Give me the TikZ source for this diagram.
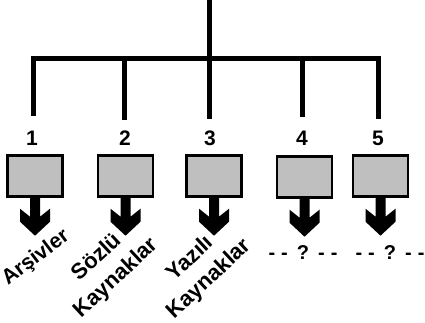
\documentclass[tikz,border=0pt]{standalone}
\usepackage{fontspec}
\setmainfont{Liberation Sans}
\usetikzlibrary{positioning}

\tikzset{
  branch/.style={line width=5pt},
  srcbox/.style={draw=black, fill=black!25, line width=2.4pt, minimum width=55pt, minimum height=41pt, inner sep=0pt},
  num/.style={font=\fontsize{21}{24}\selectfont\bfseries},
  lbl/.style={font=\fontsize{22}{28}\selectfont\bfseries, rotate=43, align=center, inner sep=0pt},
  qlbl/.style={font=\fontsize{20}{22}\selectfont\bfseries, inner sep=0pt},
  pics/downarrow/.style={code={
    \fill[black] (-5,0) -- (-5,19) -- (-15,11) -- (-15,24) -- (0,38) -- (15,24) -- (15,11) -- (5,19) -- (5,0) -- cycle;
  }}
}
\newcommand{\qmark}{-\hspace{6pt}-\hspace{9pt}?\hspace{9pt}-\hspace{6pt}-}

\begin{document}
\begin{tikzpicture}[x=1pt,y=-1pt]
\useasboundingbox (0,0) rectangle (425,323);
% tree
\coordinate (top) at (209,-3);
\coordinate (hub) at (209,59);
\coordinate (e1) at (33,116);
\coordinate (e2) at (124,120);
\coordinate (e3) at (209,119);
\coordinate (e4) at (302,117);
\coordinate (e5) at (378,119);
\draw[branch] (top) -- (hub);
\draw[branch] (e1) |- (hub) -| (e5);
\draw[branch] (e2) -- (e2 |- hub);
\draw[branch] (e3) -- (hub);
\draw[branch] (e4) -- (e4 |- hub);
% numbers
\node[num] (n1) at (32,138) {1};
\node[num] (n2) at (125,138) {2};
\node[num] (n3) at (210,138) {3};
\node[num] (n4) at (302,138) {4};
\node[num] (n5) at (378,138) {5};
% boxes
\node[srcbox] (b1) at (35,176) {};
\node[srcbox] (b2) at (125.5,176) {};
\node[srcbox] (b3) at (214,176) {};
\node[srcbox] (b4) at (304.5,177) {};
\node[srcbox] (b5) at (380.5,176) {};
\foreach \b in {b1,b2,b3,b4,b5}
  \pic at (\b.south) {downarrow};
% labels
\node[lbl, rotate=-6, font=\fontsize{21}{28}\selectfont\bfseries] (l1) at (36,258) {Arşivler};
\node[lbl] (l2) at (107,268) {Sözlü\\Kaynaklar};
\node[lbl] (l3) at (200,269) {Yazılı\\Kaynaklar};
\node[qlbl] (l4) at (303,253) {\qmark};
\node[qlbl] (l5) at (390,253) {\qmark};
\end{tikzpicture}
\end{document}
